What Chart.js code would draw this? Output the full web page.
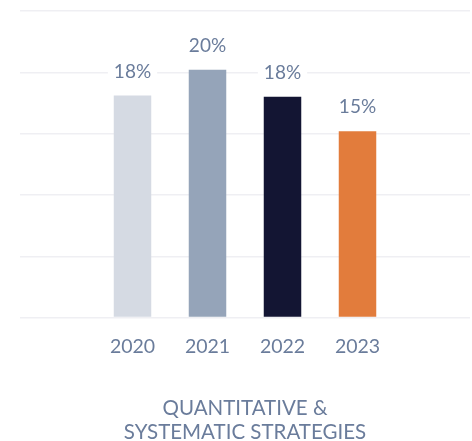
<!DOCTYPE html>
<html>
<head>
<meta charset="utf-8">
<script src="https://cdn.jsdelivr.net/npm/chart.js@4/dist/chart.umd.min.js"></script>
<style>
  html, body { margin: 0; padding: 0; background: #ffffff; }
  #wrap { width: 472px; height: 441px; position: relative; }
</style>
</head>
<body>
<div id="wrap"><canvas id="c" width="472" height="441"></canvas></div>
<script>
const categories = ['2020', '2021', '2022', '2023'];
const values = [18.1, 20.2, 18.0, 15.2];
const valueLabels = ['18%', '20%', '18%', '15%'];
const barColors = ['#d5dae3', '#95a4b9', '#131533', '#e27c3c'];
const axisTitle = ['QUANTITATIVE &', 'SYSTEMATIC STRATEGIES'];
const yMax = 25;
const yStep = 5;

// one empty slot on each side of the four years
const labels = [''].concat(categories, ['']);
const data = [null].concat(values, [null]);
const colors = ['#ffffff'].concat(barColors, ['#ffffff']);
const texts = [''].concat(valueLabels, ['']);

const TEXT = '#6a7c9b';
const FONT = 'Lato, "Open Sans", sans-serif';

const valueLabelPlugin = {
  id: 'valueLabels',
  afterDatasetsDraw(chart) {
    const ctx = chart.ctx;
    const meta = chart.getDatasetMeta(0);
    ctx.save();
    ctx.font = '19px ' + FONT;
    ctx.textAlign = 'center';
    ctx.textBaseline = 'middle';
    meta.data.forEach((bar, i) => {
      const t = texts[i];
      if (!t) return;
      const cy = bar.y - 24;
      const w = ctx.measureText(t).width;
      ctx.fillStyle = '#ffffff';
      ctx.fillRect(bar.x - w / 2 - 6, cy - 11, w + 12, 22);
      ctx.fillStyle = TEXT;
      ctx.fillText(t, bar.x, cy);
    });
    ctx.restore();
  }
};

new Chart(document.getElementById('c'), {
  type: 'bar',
  data: {
    labels: labels,
    datasets: [{
      data: data,
      backgroundColor: colors,
      borderWidth: 0,
      categoryPercentage: 1,
      barPercentage: 0.5
    }]
  },
  options: {
    responsive: false,
    animation: false,
    events: [],
    layout: { padding: { left: 20, right: 2, top: 11, bottom: 0 } },
    plugins: {
      legend: { display: false },
      tooltip: { enabled: false }
    },
    scales: {
      x: {
        grid: { display: false, drawTicks: false },
        border: { display: false },
        ticks: {
          color: TEXT,
          font: { family: FONT, size: 19.5 },
          padding: 17,
          maxRotation: 0,
          autoSkip: false
        },
        title: {
          display: true,
          text: axisTitle,
          color: TEXT,
          font: { family: FONT, size: 20.5, lineHeight: '24px' },
          padding: { top: 21, bottom: -3 }
        }
      },
      y: {
        min: 0,
        max: yMax,
        ticks: { display: false, stepSize: yStep },
        grid: { color: '#efeff3', lineWidth: 1.5, drawTicks: false },
        border: { display: false }
      }
    }
  },
  plugins: [valueLabelPlugin]
});
</script>
</body>
</html>
